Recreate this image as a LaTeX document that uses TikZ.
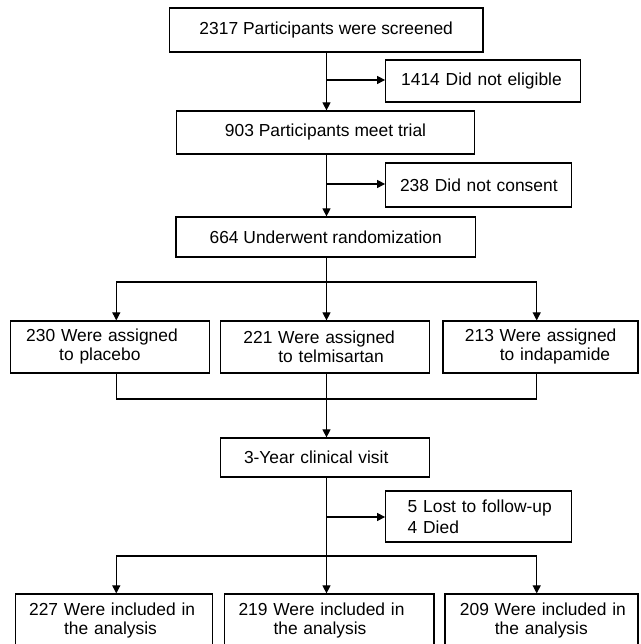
\documentclass[tikz,border=0pt]{standalone}
\usepackage{fontspec}
\setmainfont{Liberation Sans}
\usetikzlibrary{arrows.meta}

\begin{document}
\begin{tikzpicture}[x=1pt,y=1pt,
  box/.style={draw=black,line width=1.2pt,inner sep=0pt,align=center,
    font=\fontsize{17.4}{19}\selectfont},
  lbox/.style={box,align=left},
  ln/.style={line width=1.2pt},
  arr/.style={line width=1.2pt,-{Triangle[length=8pt,width=8pt]}}]
\useasboundingbox (0,0) rectangle (640,644);
% boxes on the main line:
\node[box,minimum width=313.5pt,minimum height=44pt] (screen) at (326.2,614) {2317 Participants were screened};
\node[box,minimum width=297.6pt,minimum height=43pt] (meet) at (325.5,511.5) {903 Participants meet trial};
\node[box,minimum width=299.6pt,minimum height=40pt] (rand) at (325.7,407) {664 Underwent randomization};
\node[lbox,text width=209.4pt,minimum height=39pt] (visit) at (325.1,186.5) {\hspace*{23.6pt}3-Year clinical visit};
% boxes on the side:
\node[lbox,text width=194.7pt,minimum height=42pt] (inelig) at (483.05,563) {\hspace*{15.5pt}1414 Did not eligible};
\node[lbox,text width=185.7pt,minimum height=44pt] (nocons) at (478.55,459) {\hspace*{14.3pt}238 Did not consent};
\node[lbox,text width=185.7pt,minimum height=51pt] (lost) at (478.55,127.5) {\hspace*{22pt}5 Lost to follow-up\\[2pt]\hspace*{22pt}4 Died};
% assigned groups:
\node[lbox,text width=199.2pt,minimum height=52pt] (placebo) at (109.8,297) {\hspace*{16pt}230 Were assigned\\\hspace*{49pt}to placebo};
\node[lbox,text width=209.4pt,minimum height=52pt] (telmi) at (325.1,297) {\hspace*{23pt}221 Were assigned\\\hspace*{58pt}to telmisartan};
\node[lbox,text width=195.1pt,minimum height=52pt] (indap) at (540.45,297) {\hspace*{22pt}213 Were assigned\\\hspace*{57pt}to indapamide};
% analysed groups:
\node[lbox,text width=197.6pt,minimum height=54pt] (incA) at (113.9,23) {\hspace*{14pt}227 Were included in\\\hspace*{49pt}the analysis};
\node[lbox,text width=209.4pt,minimum height=54pt] (incB) at (329.2,23) {\hspace*{14pt}219 Were included in\\\hspace*{49pt}the analysis};
\node[lbox,text width=193.1pt,minimum height=54pt] (incC) at (541.45,23) {\hspace*{15pt}209 Were included in\\\hspace*{50pt}the analysis};
% points on the lines:
\coordinate (b1) at (326.5,564);
\coordinate (b2) at (326.5,460);
\coordinate (s1) at (326.5,362);
\coordinate (s1l) at (116.3,362);
\coordinate (s1r) at (536.7,362);
\coordinate (m1) at (326.5,245);
\coordinate (m1l) at (116.3,245);
\coordinate (m1r) at (536.7,245);
\coordinate (b3) at (326.5,127);
\coordinate (s2) at (326.5,88);
\coordinate (s2l) at (116.3,88);
\coordinate (s2r) at (536.7,88);
% connectors:
\draw[arr] (b1 |- screen.south) -- (b1 |- meet.north);
\draw[arr] (b1) -- (b1 -| inelig.west);
\draw[arr] (b2 |- meet.south) -- (b2 |- rand.north);
\draw[arr] (b2) -- (b2 -| nocons.west);
\draw[ln] (s1 |- rand.south) -- (s1);
\draw[ln] (s1l) -- (s1r);
\draw[arr] (s1l) -- (s1l |- placebo.north);
\draw[arr] (s1) -- (s1 |- telmi.north);
\draw[arr] (s1r) -- (s1r |- indap.north);
\draw[ln] (m1l |- placebo.south) -- (m1l) -- (m1r) -- (m1r |- indap.south);
\draw[ln] (m1 |- telmi.south) -- (m1);
\draw[arr] (m1) -- (m1 |- visit.north);
\draw[ln] (s2 |- visit.south) -- (s2);
\draw[arr] (b3) -- (b3 -| lost.west);
\draw[ln] (s2l) -- (s2r);
\draw[arr] (s2l) -- (s2l |- incA.north);
\draw[arr] (s2) -- (s2 |- incB.north);
\draw[arr] (s2r) -- (s2r |- incC.north);
\end{tikzpicture}
\end{document}
